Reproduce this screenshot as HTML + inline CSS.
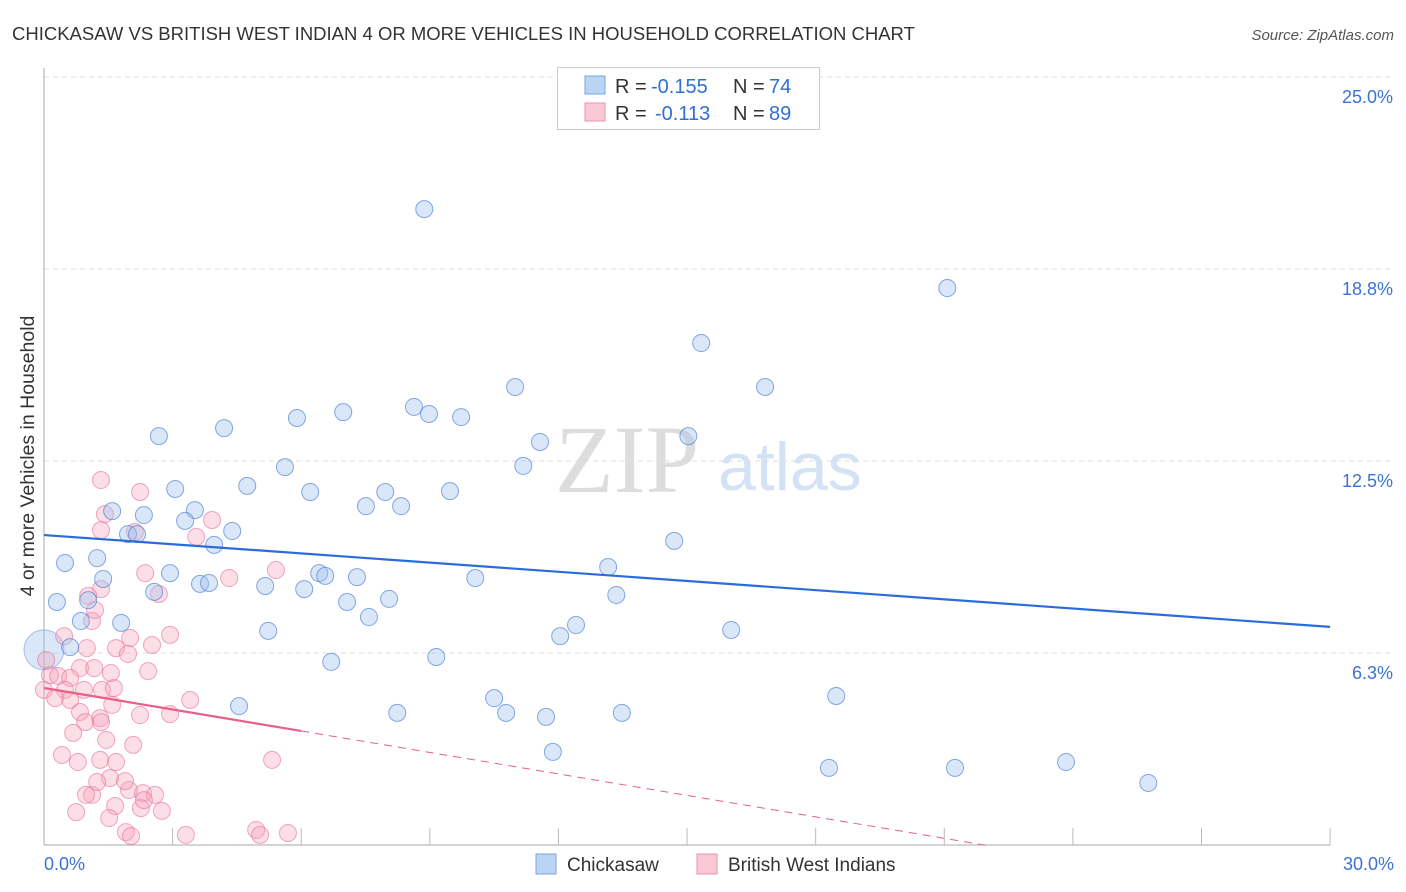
<!DOCTYPE html>
<html><head><meta charset="utf-8"><style>
body{margin:0;background:#fff;font-family:"Liberation Sans",sans-serif}
svg{display:block}
</style></head><body>
<svg id="c" width="1406" height="892">
<text x="12" y="40" font-size="18.5" fill="#333">CHICKASAW VS BRITISH WEST INDIAN 4 OR MORE VEHICLES IN HOUSEHOLD CORRELATION CHART</text>
<text x="1394" y="40" font-size="15" fill="#555" font-style="italic" text-anchor="end">Source: ZipAtlas.com</text>
<text x="34" y="456" font-size="19.5" fill="#333" text-anchor="middle" transform="rotate(-90 34 456)">4 or more Vehicles in Household</text>
<text x="555" y="492" font-size="96" fill="#ddd" font-family="Liberation Serif">ZIP</text>
<text x="718" y="490" font-size="68" fill="#d3e2f4">atlas</text>
<g id="grid"></g><g id="pts"></g><g id="trend"></g>
<g>
<rect x="557.5" y="67.5" width="262" height="62" fill="#fff" stroke="#ccc"/>
<rect x="585" y="76" width="20" height="18" fill="#bcd4f4" stroke="#7aa6e4"/>
<rect x="585" y="103" width="20" height="18" fill="#f8c8d6" stroke="#ec93ae"/>
<text x="615" y="93" font-size="20" fill="#333">R =</text>
<text x="651" y="93" font-size="20" fill="#2f6fd6">-0.155</text>
<text x="733" y="93" font-size="20" fill="#333">N =</text>
<text x="769" y="93" font-size="20" fill="#2f6fd6">74</text>
<text x="615" y="120" font-size="20" fill="#333">R =</text>
<text x="655" y="120" font-size="20" fill="#2f6fd6">-0.113</text>
<text x="733" y="120" font-size="20" fill="#333">N =</text>
<text x="769" y="120" font-size="20" fill="#2f6fd6">89</text>
</g>
<g>
<rect x="536" y="854" width="20" height="20" fill="#bcd4f4" stroke="#7aa6e4"/>
<text x="567" y="871" font-size="19" fill="#333">Chickasaw</text>
<rect x="697" y="854" width="20" height="20" fill="#f8c8d6" stroke="#ec93ae"/>
<text x="728" y="871" font-size="19" fill="#333">British West Indians</text>
</g>
</svg>
<script>
const blueX=[8.87,21.07,15.33,10.99,16.82,8.63,8.98,6.98,5.90,9.73,4.20,2.68,15.03,11.57,5.62,11.18,4.74,3.06,6.21,7.96,9.47,7.51,8.33,1.59,2.33,3.52,3.29,4.39,1.96,2.17,14.70,3.97,1.24,0.49,13.16,2.94,6.42,6.56,7.30,10.06,1.38,3.64,3.85,5.16,6.07,2.57,13.35,8.05,0.30,1.03,7.07,7.58,0.86,1.80,12.41,5.23,12.04,16.03,0.61,6.70,9.15,18.48,10.50,4.55,10.78,11.71,8.24,13.48,11.87,18.31,21.25,23.84,25.76];
const blueY=[20.70,18.13,16.34,14.91,14.91,14.26,14.03,14.09,13.90,13.93,13.57,13.31,13.31,13.12,12.30,12.34,11.69,11.59,11.49,11.49,11.52,11.03,11.03,10.87,10.74,10.90,10.55,10.22,10.12,10.12,9.90,9.77,9.34,9.18,9.05,8.85,8.85,8.76,8.72,8.69,8.66,8.50,8.53,8.43,8.33,8.24,8.14,8.01,7.91,7.97,7.91,7.42,7.29,7.23,7.16,6.97,6.80,7.00,6.44,5.96,6.12,4.85,4.78,4.52,4.30,4.17,4.30,4.30,3.03,2.51,2.51,2.70,2.02];
const pinkX=[1.33,2.24,1.42,3.92,2.12,3.55,2.36,4.32,5.41,1.33,2.68,1.03,1.12,2.94,0.47,2.01,1.68,1.00,1.96,2.52,0.84,1.17,0.05,2.43,0.14,0.33,0.61,0.0,0.49,0.93,1.35,1.63,0.26,0.61,3.41,1.59,0.84,1.31,2.94,0.96,0.68,1.33,1.45,2.08,1.31,0.42,0.79,1.68,5.32,1.54,1.12,1.98,0.98,1.89,2.31,1.24,1.66,2.59,0.75,1.52,2.26,2.33,2.75,1.91,2.03,3.31,4.95,5.04,5.69,1.33,1.19,1.56,2.24];
const pinkY=[11.88,11.49,10.77,10.58,10.19,10.03,8.85,8.69,8.95,8.33,8.17,8.11,7.29,6.84,6.80,6.74,6.41,6.41,6.22,6.51,5.76,5.76,6.02,5.66,5.53,5.50,5.44,5.05,5.05,5.05,5.05,5.11,4.78,4.72,4.72,4.56,4.33,4.13,4.26,4.00,3.65,4.00,3.42,3.26,2.77,2.93,2.70,2.70,2.77,2.18,1.63,1.79,1.63,2.08,1.69,2.05,1.27,1.63,1.07,0.88,1.20,1.46,1.11,0.42,0.29,0.33,0.49,0.33,0.39,10.25,7.65,5.60,4.23];
const yTicks=[25,18.75,12.5,6.25];
const yTickLabels=["25.0%","18.8%","12.5%","6.3%"];
const blueTrend=[10.09,7.10];
const pinkTrend=[5.11,-0.233,6,22];
const NS='http://www.w3.org/2000/svg';
const X=v=>44+v*42.87, Y=v=>845-v*30.72;
function mk(t,a,p){const e=document.createElementNS(NS,t);for(const k in a)e.setAttribute(k,a[k]);p.appendChild(e);return e;}
const g=document.getElementById('grid');
yTicks.forEach((v,i)=>{
 const l=mk('line',{x1:44,x2:1394,y1:Y(v),y2:Y(v),stroke:'#ddd','stroke-dasharray':'5,4'},g);
 
 
 const t=mk('text',{x:1393,y:Y(v)+26,'font-size':18,fill:'#3b73d0','text-anchor':'end'},g);
 t.textContent=yTickLabels[i];
 
 
});
mk('line',{x1:44,x2:44,y1:68,y2:845,stroke:'#aaa'},g);
mk('line',{x1:44,x2:1330,y1:845,y2:845,stroke:'#aaa'},g);
for(let i=1;i<=10;i++){const l=mk('line',{x1:X(i*3),x2:X(i*3),y1:828,y2:845,stroke:'#bbb'},g);
 
 }
let t=mk('text',{x:44,y:870,'font-size':18,fill:'#3b73d0'},g);t.textContent='0.0%';


t=mk('text',{x:1394,y:870,'font-size':18,fill:'#3b73d0','text-anchor':'end'},g);t.textContent='30.0%';


const p=document.getElementById('pts');
let big=mk('circle',{cx:X(0),cy:Y(6.35),r:20,fill:'rgba(150,185,235,0.35)',stroke:'rgba(90,140,215,0.5)'},p);


pinkX.forEach((x,i)=>{const c=mk('circle',{cx:X(x),cy:Y(pinkY[i]),r:8.5,fill:'rgba(245,160,185,0.35)',stroke:'rgba(232,110,150,0.6)'},p);
 
 });
blueX.forEach((x,i)=>{const c=mk('circle',{cx:X(x),cy:Y(blueY[i]),r:8.5,fill:'rgba(160,195,240,0.4)',stroke:'rgba(70,125,210,0.65)'},p);
 
 });
const tr=document.getElementById('trend');
let l=mk('line',{x1:X(0),y1:Y(blueTrend[0]),x2:X(30),y2:Y(blueTrend[1]),stroke:'#2a6dd6','stroke-width':2.2},tr);


const pf=x=>pinkTrend[0]+pinkTrend[1]*x;
l=mk('line',{x1:X(0),y1:Y(pf(0)),x2:X(pinkTrend[2]),y2:Y(pf(pinkTrend[2])),stroke:'#e8608a','stroke-width':2.2},tr);


l=mk('line',{x1:X(pinkTrend[2]),y1:Y(pf(pinkTrend[2])),x2:X(pinkTrend[3]),y2:Y(pf(pinkTrend[3])),stroke:'#e8608a','stroke-width':1,'stroke-dasharray':'8,6'},tr);


</script>
</body></html>
